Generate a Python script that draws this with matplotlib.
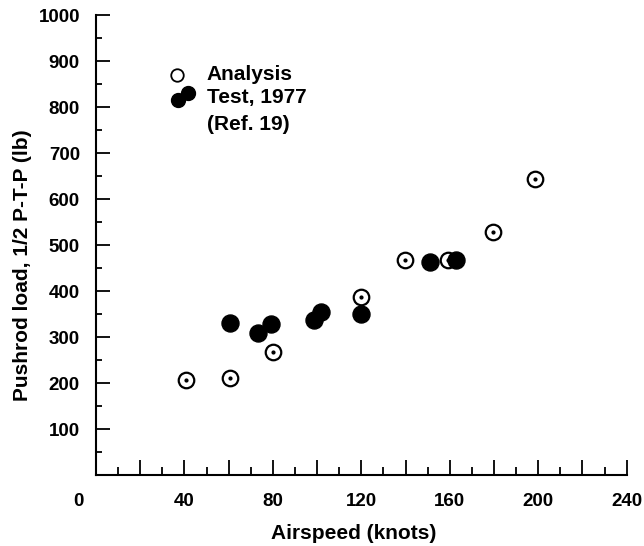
import matplotlib
matplotlib.use("Agg")
import matplotlib.pyplot as plt
import matplotlib.transforms as mtransforms
from matplotlib.ticker import MultipleLocator

plt.rcParams['font.family'] = ['Liberation Sans', 'DejaVu Sans']
plt.rcParams['font.weight'] = 'bold'

# analysis (open circles with center dot)
analysis_speed = [40.7, 60.6, 79.9, 119.9, 139.8, 159.4, 179.7, 198.6]
analysis_load = [206, 210, 267, 386, 467, 467, 528, 643]

# test, 1977 (filled circles)
test_speed = [60.6, 73.1, 79.2, 98.7, 101.6, 119.9, 151, 162.8]
test_load = [331, 308, 328, 338, 355, 349, 464, 467]

x_ticks = list(range(0, 241, 20))
x_ticklabels = [str(v) if v % 40 == 0 else '' for v in x_ticks]
y_ticks = list(range(100, 1001, 100))

fig = plt.figure(figsize=(6.44, 5.46), dpi=100)
ax = fig.add_axes([0.149, 0.130, 0.824, 0.8425])

ax.scatter(analysis_speed, analysis_load, s=125, facecolors='white',
           edgecolors='black', linewidths=1.6, zorder=3)
ax.scatter(analysis_speed, analysis_load, s=4, color='black', zorder=4)
ax.scatter(test_speed, test_load, s=150, color='black', zorder=5)

ax.set_xlim(0, 240)
ax.set_ylim(0, 1000)

for s in ['top', 'right']:
    ax.spines[s].set_visible(False)
for s in ['left', 'bottom']:
    ax.spines[s].set_linewidth(1.5)

ax.set_xticks(x_ticks)
ax.set_xticklabels(x_ticklabels, fontsize=13.5, fontweight='bold')
ax.xaxis.set_minor_locator(MultipleLocator(10))
ax.set_yticks(y_ticks)
ax.set_yticklabels([str(v) for v in y_ticks], fontsize=13.5, fontweight='bold')
ax.yaxis.set_minor_locator(MultipleLocator(50))

ax.tick_params(axis='x', which='major', direction='in', length=11, width=1.3, pad=13)
ax.tick_params(axis='x', which='minor', direction='in', length=6, width=1.3)
ax.tick_params(axis='y', which='major', direction='in', length=10, width=1.3, pad=11.5)
ax.tick_params(axis='y', which='minor', direction='in', length=4, width=1.3)

# the "0" sits left of the corner in the original
zero_lab = ax.get_xticklabels()[0]
zero_lab.set_transform(zero_lab.get_transform() +
                       mtransforms.ScaledTranslation(-0.18, 0, fig.dpi_scale_trans))

fig.text(0.5497, 0.0238, 'Airspeed (knots)', ha='center', va='center',
         fontsize=15, fontweight='bold')
fig.text(0.0357, 0.5147, 'Pushrod load, 1/2 P-T-P (lb)', ha='center', va='center',
         rotation=90, fontsize=15, fontweight='bold')

# legend drawn by hand
ax.plot([0.1526], [0.8696], 'o', ms=9, mfc='white', mec='black', mew=1.3,
        transform=ax.transAxes, clip_on=False)
ax.plot([0.1545, 0.173], [0.815, 0.830], 'o', ms=10, color='black', lw=0,
        transform=ax.transAxes, clip_on=False)
ax.text(0.209, 0.8696, 'Analysis', transform=ax.transAxes, va='center',
        fontsize=15, fontweight='bold')
ax.text(0.209, 0.8196, 'Test, 1977', transform=ax.transAxes, va='center',
        fontsize=15, fontweight='bold')
ax.text(0.209, 0.761, '(Ref. 19)', transform=ax.transAxes, va='center',
        fontsize=15, fontweight='bold')

fig.savefig('out.png', dpi=100)
